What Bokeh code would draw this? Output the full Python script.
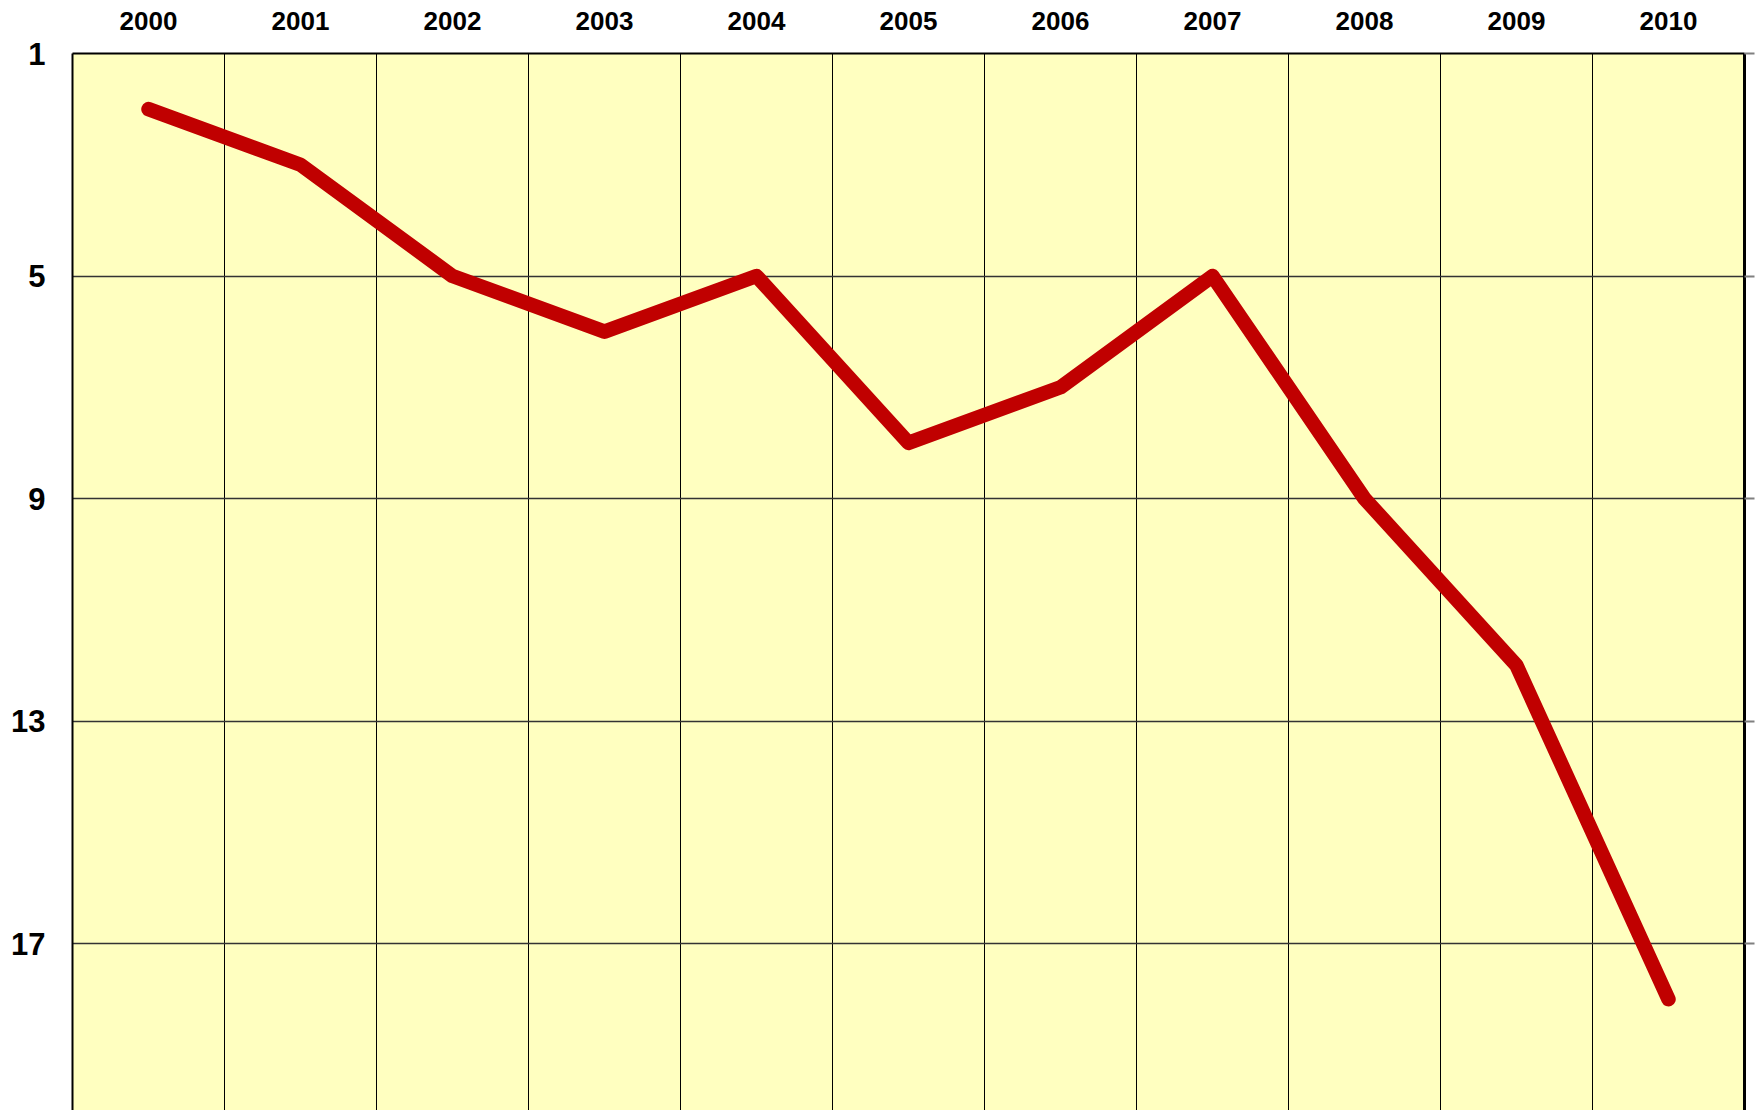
from bokeh.plotting import figure
from bokeh.models import Range1d, FixedTicker, LinearAxis
from bokeh.embed import file_html
from bokeh.resources import INLINE

years = ["2000", "2001", "2002", "2003", "2004", "2005", "2006", "2007", "2008", "2009", "2010"]
ranks = [2, 3, 5, 6, 5, 8, 7, 5, 9, 12, 18]
y_ticks = [1, 5, 9, 13, 17]

xpos = [i + 0.5 for i in range(len(years))]
FONT = "Liberation Sans"

p = figure(width=1756, height=1110, output_backend="svg", toolbar_location=None,
           x_range=Range1d(0, len(years)), y_range=Range1d(20, 1),
           x_axis_location="above", y_axis_location="left",
           min_border_left=72, min_border_right=12, min_border_top=53, min_border_bottom=0)

p.background_fill_color = "#FFFFC0"
p.border_fill_color = "white"
p.outline_line_color = None

# top axis (years)
xa = p.xaxis[0]
xa.ticker = FixedTicker(ticks=xpos)
xa.major_label_overrides = {x: y for x, y in zip(xpos, years)}
xa.major_tick_out = 0
xa.major_tick_in = 0
xa.minor_tick_out = 0
xa.minor_tick_in = 0
xa.axis_line_color = "black"
xa.axis_line_width = 2
xa.major_label_text_font = FONT
xa.major_label_text_font_style = "bold"
xa.major_label_text_font_size = "26px"
xa.major_label_text_color = "black"
xa.major_label_standoff = 24

# left axis
ya = p.yaxis[0]
ya.ticker = FixedTicker(ticks=y_ticks)
ya.major_tick_out = 0
ya.major_tick_in = 0
ya.minor_tick_out = 0
ya.minor_tick_in = 0
ya.axis_line_color = "black"
ya.axis_line_width = 2
ya.major_label_text_font = FONT
ya.major_label_text_font_style = "bold"
ya.major_label_text_font_size = "31px"
ya.major_label_text_color = "black"
ya.major_label_standoff = 27

# right axis with outward ticks, no labels
ra = LinearAxis(ticker=FixedTicker(ticks=y_ticks))
ra.major_label_overrides = {t: "" for t in y_ticks}
ra.major_tick_out = 10
ra.major_tick_in = 0
ra.minor_tick_out = 0
ra.minor_tick_in = 0
ra.major_tick_line_color = "#808080"
ra.major_tick_line_width = 2
ra.axis_line_color = "black"
ra.axis_line_width = 3
ra.major_label_standoff = 0
p.add_layout(ra, "right")

# grids
p.xgrid.ticker = FixedTicker(ticks=list(range(0, len(years) + 1)))
p.xgrid.grid_line_color = "black"
p.xgrid.grid_line_width = 1
p.ygrid.ticker = FixedTicker(ticks=y_ticks)
p.ygrid.grid_line_color = "#333333"
p.ygrid.grid_line_width = 1.3

p.line(xpos, ranks, line_width=14.5, line_color="#C00000", line_cap="round", line_join="round")

open("out.html", "w").write(file_html(p, INLINE))
